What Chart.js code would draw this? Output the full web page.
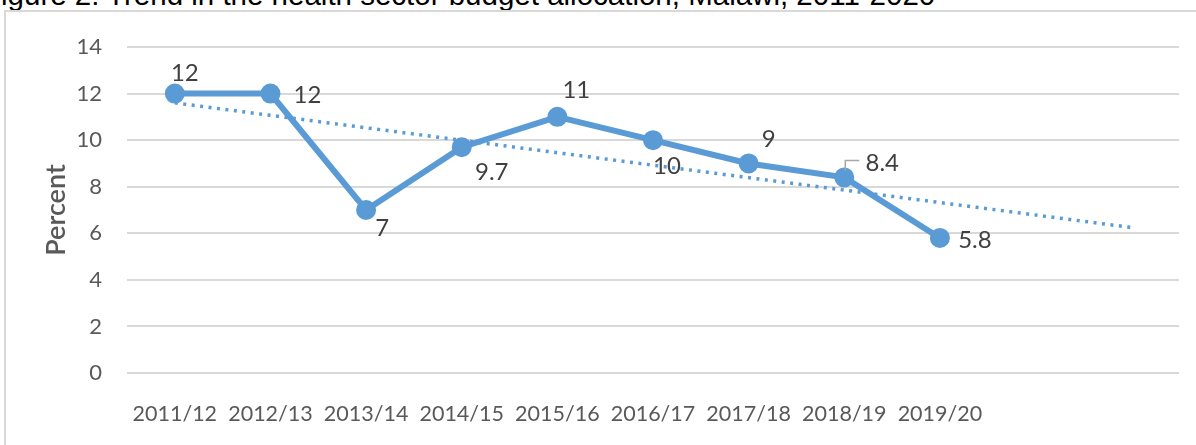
<!DOCTYPE html>
<html>
<head>
<meta charset="utf-8">
<script src="https://cdn.jsdelivr.net/npm/chart.js@4.4.1/dist/chart.umd.min.js"></script>
<style>
    html, body { margin: 0; padding: 0; background: #fff; overflow: hidden; }
    #pagina { position: relative; width: 1196px; height: 445px; overflow: hidden; }
    #titulo {
        position: absolute; left: -17px; top: -22px; white-space: nowrap; line-height: 34px;
        font-family: "Liberation Sans", Arial, sans-serif; font-size: 29.5px; color: #000;
    }
    #marco {
        position: absolute; left: 4px; top: 10px; width: 1300px; height: 500px;
        border: 2px solid #d9d9d9; box-sizing: border-box;
    }
    #grafico { position: absolute; left: 0; top: 0; }
</style>
</head>
<body>
<div id="pagina">
    <div id="titulo">Figure 2: Trend in the health sector budget allocation, Malawi, 2011-2020</div>
    <div id="marco"></div>
    <canvas id="grafico" width="1196" height="445"></canvas>
</div>
<script>
    // categorias (las dos ultimas quedan vacias: la tendencia se proyecta 2 periodos)
    const anios = ['2011/12', '2012/13', '2013/14', '2014/15', '2015/16', '2016/17', '2017/18', '2018/19', '2019/20', '', ''];
    const porcentaje = [12, 12, 7, 9.7, 11, 10, 9, 8.4, 5.8];
    // linea de tendencia: inicio y final
    const tendencia = [11.6, null, null, null, null, null, null, null, null, null, 6.25];
    const ticksY = [0, 2, 4, 6, 8, 10, 12, 14];

    // desplazamiento de cada etiqueta respecto a su punto
    const desplEtiquetas = [[10, -20], [37, 2], [16, 18], [30, 25], [19, -27], [14, 26], [20, -24], [38, -14], [35, 2]];

    const azul = '#5b9bd5';
    const fuente = 'Lato, "Open Sans", sans-serif';

    const etiquetasPlugin = {
        id: 'etiquetas',
        afterDatasetsDraw(chart) {
            const ctx = chart.ctx;
            const meta = chart.getDatasetMeta(0);
            ctx.save();
            ctx.font = '24px ' + fuente;
            ctx.fillStyle = '#404040';
            ctx.textAlign = 'center';
            ctx.textBaseline = 'middle';
            meta.data.forEach((p, i) => {
                const d = desplEtiquetas[i];
                ctx.fillText(String(porcentaje[i]), p.x + d[0], p.y + d[1]);
            });
            // linea guia de la etiqueta 8.4
            const p = meta.data[7];
            ctx.strokeStyle = '#a6a6a6';
            ctx.lineWidth = 1.5;
            ctx.beginPath();
            ctx.moveTo(p.x + 1, p.y - 7);
            ctx.lineTo(p.x + 1, p.y - 17);
            ctx.lineTo(p.x + 15, p.y - 17);
            ctx.stroke();
            ctx.restore();
        }
    };

    new Chart(document.getElementById('grafico'), {
        type: 'line',
        data: {
            labels: anios,
            datasets: [
                {
                    label: 'Percent',
                    data: porcentaje,
                    borderColor: azul,
                    backgroundColor: azul,
                    borderWidth: 6,
                    pointRadius: 7,
                    pointBackgroundColor: azul,
                    pointBorderColor: azul,
                    tension: 0,
                    order: 1
                },
                {
                    label: 'Tendencia',
                    data: tendencia,
                    borderColor: azul,
                    borderWidth: 3.5,
                    borderDash: [3, 5.5],
                    pointRadius: 0,
                    spanGaps: true,
                    order: 2
                }
            ]
        },
        options: {
            responsive: false,
            animation: false,
            layout: { padding: { left: 0, top: 47, right: 17, bottom: 0 } },
            plugins: { legend: { display: false }, tooltip: { enabled: false } },
            scales: {
                x: {
                    offset: true,
                    grid: { display: false },
                    border: { display: false },
                    ticks: { color: '#595959', font: { family: fuente, size: 21.5 }, padding: 20, maxRotation: 0, autoSkip: false },
                    afterFit: s => { s.height = 72; }
                },
                y: {
                    min: 0,
                    max: 14,
                    afterBuildTicks: s => { s.ticks = ticksY.map(v => ({ value: v })); },
                    grid: { color: '#d9d9d9', lineWidth: 2, drawTicks: false },
                    border: { display: false },
                    ticks: { color: '#595959', font: { family: fuente, size: 22 }, padding: 25 },
                    title: { display: true, text: 'Percent', color: '#595959', font: { family: fuente, size: 27, weight: '600' }, padding: { top: 40, bottom: 0 } },
                    afterFit: s => { s.width = 127; }
                }
            }
        },
        plugins: [etiquetasPlugin]
    });
</script>
</body>
</html>
